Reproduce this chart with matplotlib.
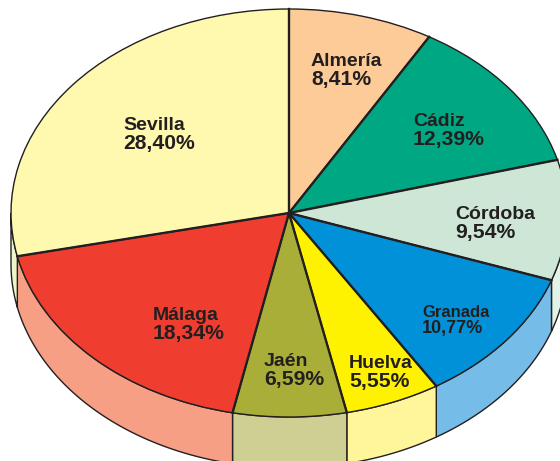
import numpy as np
import matplotlib
matplotlib.use('Agg')
import matplotlib.pyplot as plt

plt.rcParams['font.family'] = ['Liberation Sans', 'DejaVu Sans']

provinces = ['Almería', 'Cádiz', 'Córdoba', 'Granada', 'Huelva', 'Jaén', 'Málaga', 'Sevilla']
shares = [8.41, 12.39, 9.54, 10.77, 5.55, 6.59, 18.34, 28.40]
top_colors = ['#fdcb98', '#00a783', '#cde6d5', '#0091d9', '#fff200', '#a8ae37', '#ef3e30', '#fff9b0']
side_colors = ['#fee5cb', '#7fd3c1', '#e3f2e9', '#75bde8', '#fff69b', '#d0cf93', '#f69f84', '#eef5c8']

# label spots in image pixels: left edge, middle of the two lines, font size
label_x = [311, 413, 455, 422, 349, 264, 153, 123]
label_y = [69, 129, 222, 319, 371, 369, 323, 133]
name_size = [14, 14, 14, 12, 14, 14, 14, 14]
value_size = [15.2, 15.2, 15.2, 13, 15.2, 15.2, 15.2, 15.2]

W, H = 560, 461
cx, cy = 289, 213
rx, ry = 278, 204
depth = 51 / ry
ink = '#231f20'


def px(x, y):
    return (x - cx) / rx, (cy - y) / ry


fig = plt.figure(figsize=(W / 100, H / 100), dpi=100)
ax = fig.add_axes([0, 0, 1, 1])

# side walls first, only the part of each slice on the front half
edges = np.concatenate([[0], np.cumsum(shares)]) / sum(shares) * 360
for i in range(len(shares)):
    a0 = max(edges[i], 90)
    a1 = min(edges[i + 1], 270)
    if a1 <= a0:
        continue
    t = np.radians(np.linspace(a0, a1, 60))
    xs = np.sin(t)
    ys = np.cos(t)
    ax.fill(np.concatenate([xs, xs[::-1]]), np.concatenate([ys, ys[::-1] - depth]),
            facecolor=side_colors[i], edgecolor=ink, linewidth=1.0, zorder=1)

ax.pie(shares, colors=top_colors, startangle=90, counterclock=False, radius=1,
       wedgeprops={'edgecolor': ink, 'linewidth': 1.0, 'zorder': 2})

# spokes are a bit heavier than the rim
for a in np.radians(edges[:-1]):
    ax.plot([0, np.sin(a)], [0, np.cos(a)], color=ink, linewidth=1.7, zorder=3)

# pie() forces a round pie, undo that to get the tilted ellipse
ax.set_aspect('auto')
ax.set_xlim(px(0, 0)[0], px(W, 0)[0])
ax.set_ylim(px(0, H)[1], px(0, 0)[1])
ax.axis('off')

for i, name in enumerate(provinces):
    x, y = px(label_x[i], label_y[i])
    value = f'{shares[i]:.2f}%'.replace('.', ',')
    ax.annotate(name, (x, y), xytext=(0, -1), textcoords='offset points', ha='left', va='bottom',
                fontsize=name_size[i], fontweight='bold', color=ink, zorder=5)
    ax.annotate(value, (x, y), xytext=(0, -0.5), textcoords='offset points', ha='left', va='top',
                fontsize=value_size[i], fontweight='bold', color=ink, zorder=5)

fig.savefig('out.png', dpi=100, facecolor='white')
